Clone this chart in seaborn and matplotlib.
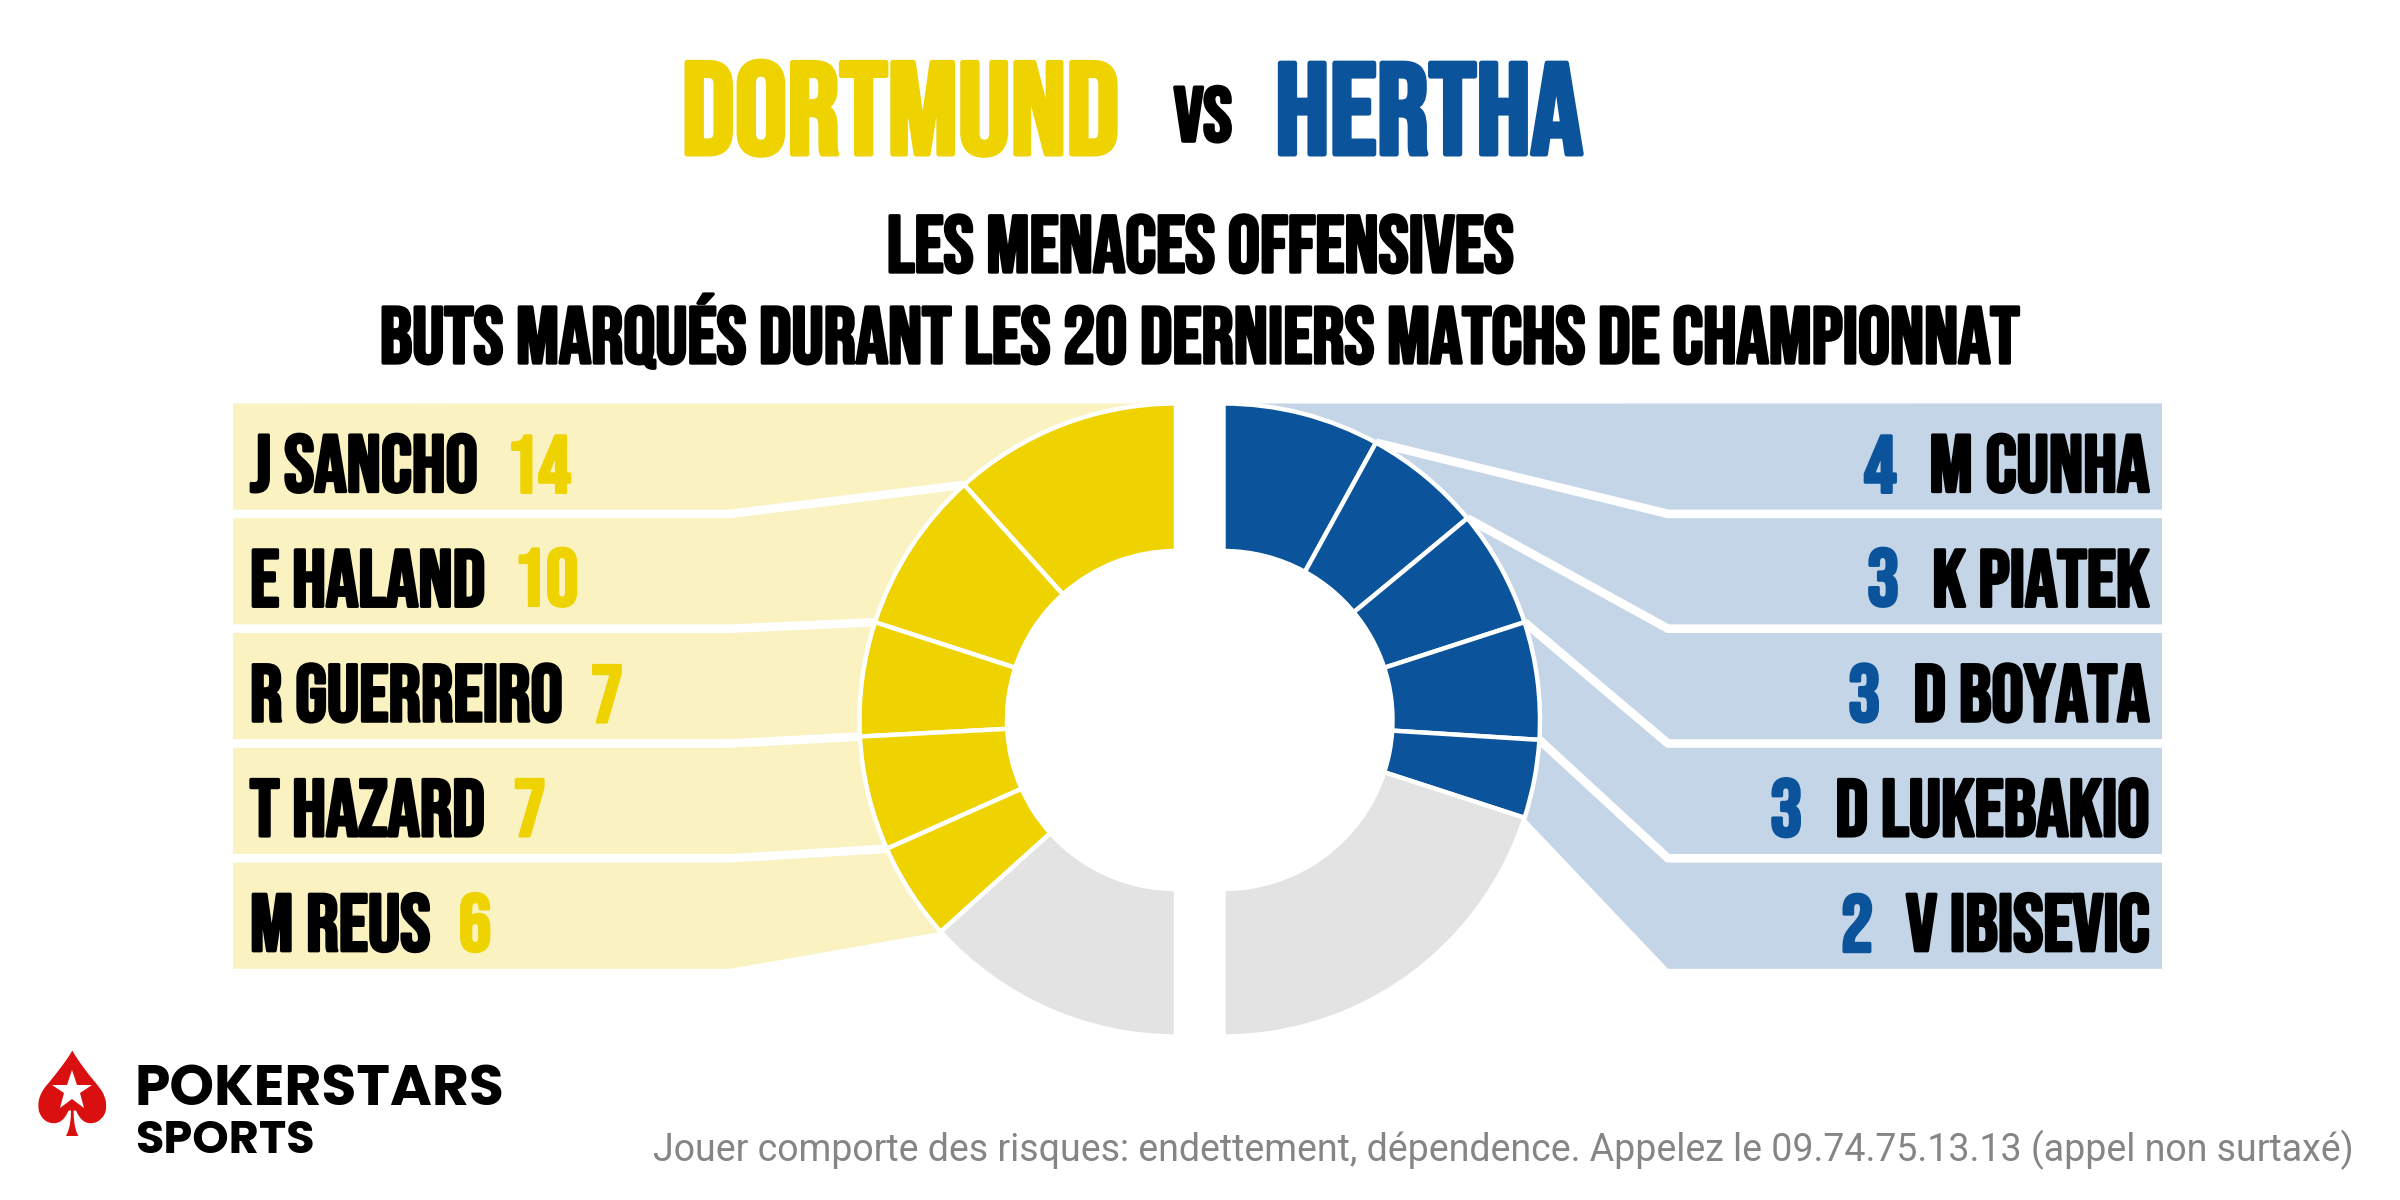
import numpy as np
import matplotlib
matplotlib.use("Agg")
import matplotlib.pyplot as plt
import matplotlib.patheffects as pe
import seaborn as sns
from matplotlib import font_manager as fm
from matplotlib.patches import Polygon

# ---------------- data ----------------
team_names = ["DORTMUND", "HERTHA"]
dortmund_players = ["J SANCHO", "E HALAND", "R GUERREIRO", "T HAZARD", "M REUS"]
dortmund_goals = [14, 10, 7, 7, 6]
dortmund_total = 60
hertha_players = ["M CUNHA", "K PIATEK", "D BOYATA", "D LUKEBAKIO", "V IBISEVIC"]
hertha_goals = [4, 3, 3, 3, 2]
hertha_total = 25
title_lines = ["LES MENACES OFFENSIVES",
               "BUTS MARQUÉS DURANT LES 20 DERNIERS MATCHS DE CHAMPIONNAT"]
disclaimer = ("Jouer comporte des risques: endettement, dépendence. "
              "Appelez le 09.74.75.13.13 (appel non surtaxé)")
brand = ["POKERSTARS", "SPORTS"]

# ---------------- style ----------------
YELLOW = "#EED300"
YELLOW_LIGHT = "#FAF3C1"
BLUE = "#0B549B"
BLUE_LIGHT = "#C4D5E7"
GREY = "#E3E3E3"
RED = "#D9100F"

sns.set_theme(style="white")
avail = {f.name for f in fm.fontManager.ttflist}
COND = next((n for n in ["Bebas Neue", "Oswald", "Anton", "Liberation Sans Narrow"] if n in avail), "DejaVu Sans")
LOGO = next((n for n in ["Poppins", "Inter"] if n in avail), "DejaVu Sans")
plt.rcParams["font.family"] = ["DejaVu Sans"]

W, H = 2400, 1200
fig = plt.figure(figsize=(24, 12), dpi=100)
ax = fig.add_axes([0, 0, 1, 1])


def Y(p):
    return H - p


def bold(color, lw):
    return [pe.withStroke(linewidth=lw, foreground=color)]


# ---------------- layout ----------------
R = 316.5
RW = 147.5
CY = Y(720)
CXL, CXR = 1176.0, 1223.5
BAND_TOP, BAND_H, BAND_GAP = 403.4, 106.2, 8.6
xL, xBendL = 233.0, 730.0
xR, xBendR = 2162.0, 1668.0


def donut(goals, total, color, cx, counter):
    vals = list(goals) + [total - sum(goals), total]
    cols = [color] * len(goals) + [GREY, "white"]
    wedges, _ = ax.pie(vals, colors=cols, startangle=90, counterclock=counter,
                       radius=R, center=(cx, CY), frame=True,
                       wedgeprops=dict(width=RW, edgecolor="white", linewidth=3.2, zorder=5))
    wedges[-1].set_visible(False)
    cum = np.cumsum(goals) / total * 180.0
    sign = 1 if counter else -1
    return 90 + sign * cum


def panel(angs, cx, xedge, xbend, light):
    top1 = Y(BAND_TOP)
    bot5 = Y(BAND_TOP + 5 * BAND_H + 4 * BAND_GAP)
    arc = np.linspace(90, angs[-1], 200)
    pts = [(xedge, top1)] + [(cx + R * np.cos(np.radians(a)), CY + R * np.sin(np.radians(a))) for a in arc]
    pts += [(xbend, bot5), (xedge, bot5)]
    ax.add_patch(Polygon(pts, closed=True, facecolor=light, edgecolor="none", zorder=1))
    for k in range(4):
        sy = Y(BAND_TOP + (k + 1) * BAND_H + k * BAND_GAP + BAND_GAP / 2)
        a = np.radians(angs[k])
        px, py = cx + R * np.cos(a), CY + R * np.sin(a)
        ext = -6 if xedge < cx else 6
        ax.plot([xedge + ext, xbend, px], [sy, sy, py], color="white", lw=6.2,
                solid_joinstyle="miter", solid_capstyle="butt", zorder=3)


angL = donut(dortmund_goals, dortmund_total, YELLOW, CXL, True)
angR = donut(hertha_goals, hertha_total, BLUE, CXR, False)
panel(angL, CXL, xL, xBendL, YELLOW_LIGHT)
panel(angR, CXR, xR, xBendR, BLUE_LIGHT)

# ---------------- labels ----------------
LBL = 60
LW_LBL = 2.4
label_texts = []
for i in range(5):
    cyb = BAND_TOP + i * (BAND_H + BAND_GAP) + BAND_H / 2
    base = Y(cyb + 35)
    t = ax.text(250, base, dortmund_players[i], fontsize=LBL, family=COND,
                color="black", ha="left", va="baseline", zorder=6,
                path_effects=bold("black", LW_LBL))
    n = ax.annotate(str(dortmund_goals[i]), xy=(1, 0), xycoords=t, xytext=(29, 0),
                    textcoords="offset pixels", fontsize=LBL, family=COND,
                    color=YELLOW, ha="left", va="bottom", zorder=6,
                    path_effects=bold(YELLOW, LW_LBL))
    t2 = ax.text(2149, base, hertha_players[i], fontsize=LBL, family=COND,
                 color="black", ha="right", va="baseline", zorder=6,
                 path_effects=bold("black", LW_LBL))
    n2 = ax.annotate(str(hertha_goals[i]), xy=(0, 0), xycoords=t2, xytext=(-33, 0),
                     textcoords="offset pixels", fontsize=LBL, family=COND,
                     color=BLUE, ha="right", va="bottom", zorder=6,
                     path_effects=bold(BLUE, LW_LBL))
    label_texts += [t, n, t2, n2]

# ---------------- titles ----------------
tD = ax.text(1120, Y(154), team_names[0], fontsize=94, family=COND,
             color=YELLOW, ha="right", va="baseline", path_effects=bold(YELLOW, 3.6))
tV = ax.text(1203, Y(141), "vs", fontsize=60, family=COND,
             color="black", ha="center", va="baseline", path_effects=bold("black", 2.6))
tH = ax.text(1275, Y(154), team_names[1], fontsize=94, family=COND,
             color=BLUE, ha="left", va="baseline", path_effects=bold(BLUE, 3.6))
tS1 = ax.text(1200, Y(272), title_lines[0], fontsize=58, family=COND,
              color="black", ha="center", va="baseline", path_effects=bold("black", 2.4))
tS2 = ax.text(1200, Y(363), title_lines[1], fontsize=58, family=COND,
              color="black", ha="center", va="baseline", path_effects=bold("black", 2.4))

# ---------------- footer ----------------
ax.text(2354, Y(1161), disclaimer, fontsize=27, family="Roboto", color="#858585",
        ha="right", va="baseline")
ax.text(72, Y(1104), "\u2660", fontsize=84, color=RED, ha="center", va="center",
        family="DejaVu Sans")
ax.plot([72], [Y(1091)], marker="*", markersize=30, color="white",
        markeredgewidth=0, zorder=7)
tP = ax.text(135, Y(1105), brand[0], fontsize=36, family=LOGO, weight="bold",
             color="black", ha="left", va="baseline")
tSp = ax.text(135, Y(1153), brand[1], fontsize=30, family=LOGO, weight="bold",
              color="black", ha="left", va="baseline")

ax.set_xlim(0, W)
ax.set_ylim(0, H)
ax.set_aspect("equal")
ax.axis("off")

# fit text widths to the measured widths of the reference layout
fig.canvas.draw()
rend = fig.canvas.get_renderer()


def fit_size(t, target):
    w = t.get_window_extent(rend).width
    return t.get_fontsize() * target / w


for t, target in [(tD, 438), (tH, 308), (tV, 58), (tS1, 625), (tS2, 1636),
                  (tP, 370), (tSp, 180)]:
    t.set_fontsize(fit_size(t, target))
lbl_size = fit_size(label_texts[0], 228)
for t in label_texts:
    t.set_fontsize(lbl_size)

fig.savefig("out.png", dpi=100, facecolor="white")
